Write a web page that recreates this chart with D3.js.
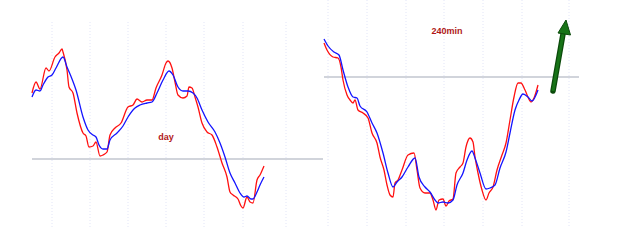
<!DOCTYPE html>
<html>
<head>
<meta charset="utf-8">
<script src="https://d3js.org/d3.v7.min.js"></script>
<style>
  body { margin: 0; background: #fff; }
  svg { display: block; }
</style>
</head>
<body>
<script>
// day panel: bar index and price level
const dayRedX = [0,4,8,14,17,23,27,30,31,35,37,41,45,51,54,57,61,64,68,71,75,78,83,89,96,101,105,110,115,120,124,130,134,136,140,143,146,151,155,157,160,163,166,170,175,180,185,190,195,198,201,206,209,211,215,218,221,225,228,232];
const dayRed  = [135,146,139,160,157,171,175,179,176,158,141,135,115,95,92,81,82,86,72,73,76,93,100,105,121,123,129,126,128,128,140,153,165,167,160,146,133,130,132,141,140,131,121,105,96,93,81,65,51,36,33,29,22,20,31,26,25,48,53,62];
const dayBlueX = [0,4,8,11,16,20,24,31,35,40,44,51,56,61,64,67,71,75,78,85,91,96,103,108,115,120,125,131,137,141,146,151,156,161,165,170,176,183,188,193,198,203,208,212,215,219,221,225,228,232];
const dayBlue  = [131,138,137,143,151,153,160,171,161,149,138,111,98,93,91,83,79,79,88,95,102,111,120,123,125,126,135,148,157,153,141,137,137,135,130,118,106,96,85,71,55,45,35,31,32,29,29,36,43,51];
const dayTicks = [20,58,96,134,172,211,254];
const dayLevel = 69;

// 240min panel
const minRedX = [0,3,9,14,17,19,23,26,29,31,34,39,44,48,53,56,60,63,66,69,71,74,78,84,90,93,96,101,106,109,112,115,119,122,125,129,132,136,139,142,146,149,151,154,158,162,165,169,173,178,182,186,190,194,197,201,207,210,214];
const minRed  = [185,178,171,170,161,148,133,128,125,128,118,115,110,95,85,71,58,43,33,31,45,48,58,73,75,58,40,35,35,28,18,28,29,22,27,29,55,61,65,81,90,86,71,55,38,28,35,41,58,73,85,108,131,145,145,138,126,130,143];
const minBlueX = [0,4,10,15,19,24,29,33,36,43,48,53,59,64,69,73,78,84,91,95,101,106,111,114,119,124,129,133,139,143,148,151,156,162,166,171,176,182,186,191,195,199,204,208,214];
const minBlue  = [189,182,176,173,158,141,131,130,122,116,105,95,75,55,41,46,51,61,70,51,41,36,28,25,26,25,28,43,55,68,77,70,55,39,40,43,60,76,95,118,128,134,131,127,138];
const minTicks = [4,43,82,120,159,198,245];
const minLevel = 151;

const W = 625, H = 250;
const svg = d3.select("body").append("svg")
    .attr("width", W)
    .attr("height", H);

function drawPanel(p) {
    let x = d3.scaleLinear().domain([0, p.xMax]).range([p.left, p.left + p.xMax]);
    let y = d3.scaleLinear().domain([0, 206]).range([228, 22]);

    let g = svg.append("g");

    // dotted vertical grid
    g.selectAll(".grid")
        .data(p.ticks)
        .enter().append("line")
        .attr("x1", d => x(d)).attr("x2", d => x(d))
        .attr("y1", p.gridTop).attr("y2", 228)
        .attr("stroke", "#e2e5f7")
        .attr("stroke-width", 1)
        .attr("stroke-dasharray", "1,2");

    // horizontal level
    g.append("line")
        .attr("x1", p.lineX[0]).attr("x2", p.lineX[1])
        .attr("y1", y(p.level)).attr("y2", y(p.level))
        .attr("stroke", "#a3a9b8")
        .attr("stroke-width", 1.2);

    let line = d3.line()
        .x(d => x(d[0]))
        .y(d => y(d[1]))
        .curve(d3.curveMonotoneX);

    g.append("path")
        .datum(d3.zip(p.redX, p.red))
        .attr("d", line)
        .attr("fill", "none")
        .attr("stroke", "#ff1010")
        .attr("stroke-width", 1.3);

    g.append("path")
        .datum(d3.zip(p.blueX, p.blue))
        .attr("d", line)
        .attr("fill", "none")
        .attr("stroke", "#1414ff")
        .attr("stroke-width", 1.3);

    g.append("text")
        .attr("x", p.label[0])
        .attr("y", p.label[1])
        .attr("text-anchor", "middle")
        .style("font-family", "Arial, 'Liberation Sans', sans-serif")
        .style("font-size", "9px")
        .style("font-weight", "bold")
        .style("fill", "#b01818")
        .text(p.title);
}

drawPanel({left: 32, xMax: 300, ticks: dayTicks, gridTop: 22, level: dayLevel,
    lineX: [32, 323], redX: dayRedX, red: dayRed, blueX: dayBlueX, blue: dayBlue,
    label: [166, 140], title: "day"});

drawPanel({left: 324, xMax: 260, ticks: minTicks, gridTop: 0, level: minLevel,
    lineX: [324, 579], redX: minRedX, red: minRed, blueX: minBlueX, blue: minBlue,
    label: [447, 34], title: "240min"});

// green arrow
let arrow = svg.append("g");
arrow.append("line")
    .attr("x1", 553).attr("y1", 91)
    .attr("x2", 563).attr("y2", 34)
    .attr("stroke", "#0b4a0b")
    .attr("stroke-width", 5.5)
    .attr("stroke-linecap", "round");
arrow.append("line")
    .attr("x1", 553).attr("y1", 91)
    .attr("x2", 563).attr("y2", 34)
    .attr("stroke", "#177317")
    .attr("stroke-width", 3);
arrow.append("path")
    .attr("d", "M566,20 L570.5,35 L558,33 Z")
    .attr("fill", "#177317")
    .attr("stroke", "#0b4a0b")
    .attr("stroke-width", 1);
</script>
</body>
</html>
